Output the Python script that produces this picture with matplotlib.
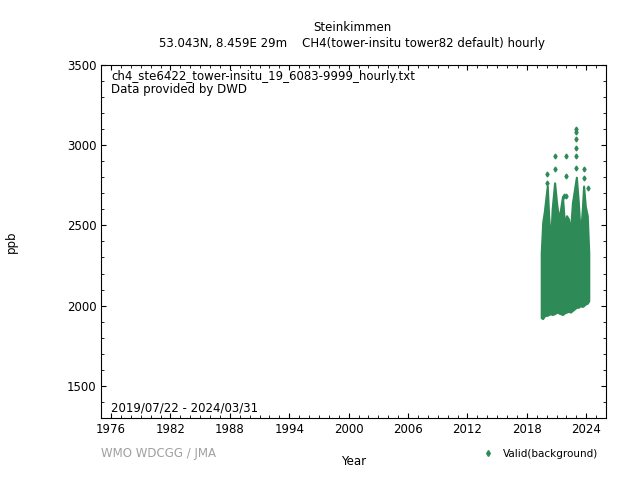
import numpy as np
from matplotlib import pyplot as plt

# dense band of hourly values, read as envelope (decimal year, low, high)
band_year = [2019.45, 2019.6, 2019.75, 2019.9, 2020.06, 2020.2, 2020.4, 2020.55, 2020.8,
             2021.0, 2021.2, 2021.4, 2021.6, 2021.8, 2022.0, 2022.2, 2022.4, 2022.6,
             2022.8, 2023.0, 2023.2, 2023.4, 2023.6, 2023.73, 2023.9, 2024.1, 2024.25]
band_low = [1925, 1920, 1935, 1940, 1940, 1945, 1950, 1945, 1950, 1960, 1955, 1950, 1945,
            1955, 1960, 1965, 1960, 1970, 1980, 1990, 1990, 2000, 1995, 2000, 2010, 2015, 2030]
band_high = [2330, 2520, 2580, 2660, 2745, 2560, 2390, 2600, 2765, 2640, 2540, 2600, 2680,
             2500, 2560, 2540, 2460, 2640, 2720, 2800, 2640, 2435, 2600, 2745, 2620, 2560, 2330]
spike_year = [2020.06, 2020.06, 2020.8, 2020.8, 2022.0, 2022.0, 2022.99, 2022.99, 2022.99,
              2022.99, 2022.99, 2022.99, 2023.73, 2023.73, 2024.2, 2021.7, 2021.95]
spike_val = [2818, 2766, 2930, 2850, 2930, 2810, 3100, 3080, 3035, 2983, 2930, 2860,
             2850, 2797, 2735, 2680, 2680]

green = "#2e8b57"
fig = plt.figure(figsize=(6.4, 4.8), dpi=100)
ax = fig.add_axes([0.158, 0.129, 0.789, 0.736])
ax.fill_between(band_year, band_low, band_high, color=green, lw=1.5, edgecolor=green)
ax.plot(spike_year, spike_val, "d", color=green, ms=2.5, ls="none")
ax.plot([], [], "d", color=green, ms=3, label="Valid(background)")

ax.set_xlim(1975, 2026)
ax.set_ylim(1300, 3500)
ax.set_xticks(range(1976, 2025, 6))
ax.set_xticks(range(1975, 2027), minor=True)
ax.set_yticks(range(1500, 3501, 500))
ax.set_yticks(range(1300, 3501, 100), minor=True)
ax.tick_params(which="both", direction="in", top=True, right=True, labelsize=8.5)
ax.tick_params(which="minor", length=2)
ax.set_xlabel("Year", fontsize=8.5, labelpad=14)
ax.set_ylabel("ppb", fontsize=8.5, labelpad=35)
fig.text(0.55, 0.935, "Steinkimmen", ha="center", fontsize=8.5)
fig.text(0.55, 0.903, "53.043N, 8.459E 29m    CH4(tower-insitu tower82 default) hourly",
         ha="center", fontsize=8.5)
ax.text(0.02, 0.985, "ch4_ste6422_tower-insitu_19_6083-9999_hourly.txt\nData provided by DWD",
        transform=ax.transAxes, va="top", fontsize=8.5, linespacing=1.0)
ax.text(0.02, 0.02, "2019/07/22 - 2024/03/31", transform=ax.transAxes, fontsize=8.5)
fig.text(0.158, 0.047, "WMO WDCGG / JMA", color="#a0a0a0", fontsize=8.5)
fig.legend(loc="lower right", bbox_to_anchor=(0.95, 0.025), frameon=False, fontsize=7.5,
           handletextpad=0.5)
fig.savefig("out.png")
